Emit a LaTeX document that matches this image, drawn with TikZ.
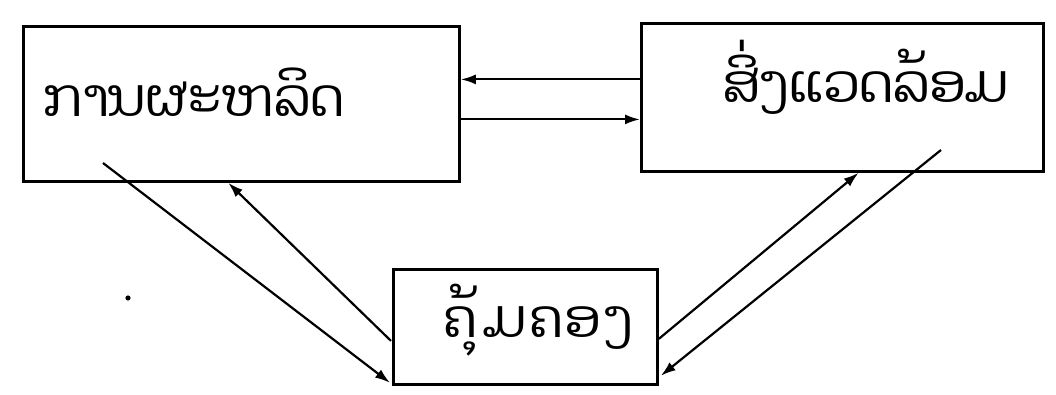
\documentclass[tikz,border=0pt]{standalone}
\usepackage{fontspec}
\newfontfamily\laofont[Script=Lao]{Dhyana}
\usetikzlibrary{arrows.meta,calc}
\begin{document}
\begin{tikzpicture}[x=1pt,y=-1pt,
  box/.style={draw, line width=2.8pt, rectangle, inner sep=0pt},
  lbl/.style={font=\laofont\fontsize{53}{60}\selectfont, inner sep=0pt},
  arr/.style={line width=2.2pt, -{Latex[length=15pt,width=10pt]}}]
\useasboundingbox (0,0) rectangle (1056,395);
\fill[white] (0,0) rectangle (1056,395);

% the three blocks
\node[box, minimum width=436pt, minimum height=155pt, anchor=north west] (prod) at (22,25) {};
\node[box, minimum width=402pt, minimum height=148pt, anchor=north west] (env) at (640,22) {};
\node[box, minimum width=264pt, minimum height=115pt, anchor=north west] (mgmt) at (392,268) {};

% labels
\node[lbl, anchor=base west] (prodtxt) at (43,117) {ການຜະຫລິດ};
\node[lbl, anchor=base west] (envtxt) at (722,103) {ສິ່ງແວດລ້ອມ};
\node[lbl, anchor=base west] (mgmttxt) at (443,337) {\addfontfeatures{LetterSpace=5}ຄຸ້ມຄອງ};

% exchange between production and environment
\draw[arr] ([yshift=18pt]env.west) -- ([yshift=18pt]env.west -| prod.east);
\draw[arr] ([yshift=-15.5pt]prod.east) -- ([yshift=-15.5pt]prod.east -| env.west);

% links with management
\coordinate (p1) at (103,163);
\coordinate (e1) at (941,150);
\draw[arr] (p1) -- ($(mgmt.south west)+(-2,-3)$);
\draw[arr] ($(mgmt.west)+(-1,14)$) -- ($(prod.south west)!0.47!(prod.south east)$);
\draw[arr] ($(mgmt.east)+(0,12)$) -- ($(env.south west)!0.54!(env.south east)$);
\draw[arr] (e1) -- ($(mgmt.south east)+(2,-10)$);

% speck of ink at the left
\fill (128,298) circle (2.6pt);
\end{tikzpicture}
\end{document}
